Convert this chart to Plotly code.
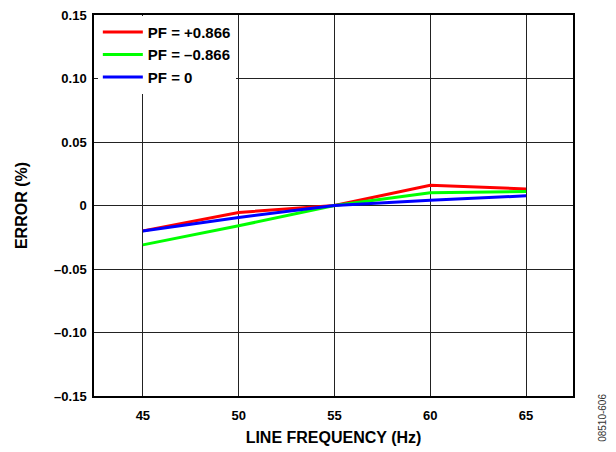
import plotly.graph_objects as go

freq = [45, 50, 55, 60, 65]
pf_pos = [-0.020, -0.0055, 0.0, 0.016, 0.013]
pf_neg = [-0.031, -0.016, 0.0, 0.010, 0.011]
pf_zero = [-0.020, -0.0094, 0.0, 0.0042, 0.0076]

series_names = ["PF = +0.866", "PF = \u20130.866", "PF = 0"]
series_colors = ["#ff0000", "#00ff00", "#0000ff"]

y_ticks = [-0.15, -0.10, -0.05, 0, 0.05, 0.10, 0.15]
y_ticktext = ["\u20130.15", "\u20130.10", "\u20130.05", "0", "0.05", "0.10", "0.15"]
x_ticks = [45, 50, 55, 60, 65]

fig = go.Figure()
for name, vals, col in zip(series_names, [pf_pos, pf_neg, pf_zero], series_colors):
    fig.add_trace(go.Scatter(x=freq, y=vals, mode="lines", name="<b>%s</b>" % name,
                             line=dict(color=col, width=3)))

font_family = "Liberation Sans, Arial, sans-serif"
fig.update_layout(
    width=616, height=452,
    margin=dict(l=94, r=43, t=8, b=56),
    paper_bgcolor="white", plot_bgcolor="white",
    font=dict(family=font_family, size=13, color="black"),
    showlegend=True,
    legend=dict(x=0.008, y=0.998, xanchor="left", yanchor="top",
                bgcolor="white", borderwidth=0,
                font=dict(family=font_family, size=15, color="black"),
                tracegroupgap=0, itemwidth=40),
    xaxis=dict(range=[42.45, 67.45], tickvals=x_ticks,
               ticktext=["<b>%d</b>" % v for v in x_ticks],
               showgrid=True, gridcolor="#222", gridwidth=1,
               showline=True, linecolor="black", linewidth=1.5, mirror=True,
               ticks="", zeroline=False, ticklabelstandoff=7,
               title=dict(text="<b>LINE FREQUENCY (Hz)</b>", standoff=9)),
    yaxis=dict(range=[-0.15, 0.15], tickvals=y_ticks,
               ticktext=["<b>%s</b>" % t for t in y_ticktext],
               showgrid=True, gridcolor="#222", gridwidth=1,
               showline=True, linecolor="black", linewidth=1.5, mirror=True,
               ticks="", zeroline=False, ticklabelstandoff=3,
               title=dict(text="<b>ERROR (%)</b>", standoff=23)),
)
fig.add_annotation(text="08510-606", xref="paper", yref="paper",
                   x=1.06, y=-0.058, textangle=-90, showarrow=False,
                   font=dict(family=font_family, size=10, color="#333"),
                   xanchor="center", yanchor="middle")

fig.write_html(
    "out.html",
    config={"displayModeBar": False},
    post_script=(
        "document.body.style.margin='0';"
        "document.body.style.overflow='hidden';"
        "var d=document.getElementById('{plot_id}');"
        "d.style.position='fixed';d.style.top='0';d.style.left='0';"
    ),
)
